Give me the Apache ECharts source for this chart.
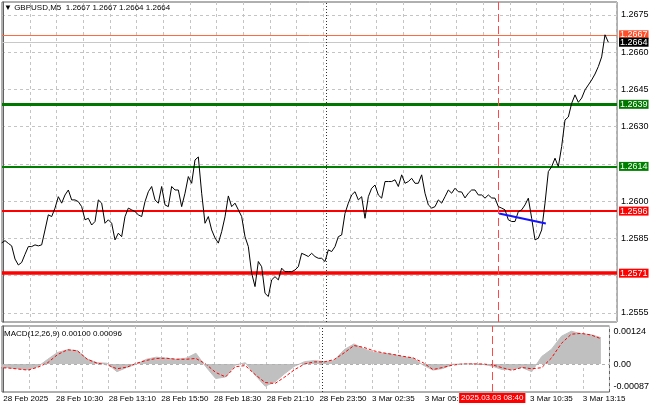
<!DOCTYPE html>
<html><head><meta charset="utf-8">
<script src="https://cdn.jsdelivr.net/npm/echarts@6/dist/echarts.min.js"></script>
<style>html,body{margin:0;padding:0;background:#fff}#c{width:652px;height:408px}</style>
</head><body><div id="c"></div>
<script>
// ---------- data ----------
const symbolName = 'GBPUSD,M5';
const ohlc = [1.2667, 1.2667, 1.2664, 1.2664];
const macdParams = '12,26,9';
const macdLast = [0.00100, 0.00096];

// close prices sampled every 2 bars (bar index = -1 + 2k)
const closes = [
 1.25832,1.25841,1.25830,1.25820,1.25767,1.25743,1.25753,1.25786,1.25817,1.25817,
 1.25824,1.25820,1.25824,1.25884,1.25945,1.25938,1.25972,1.26018,1.25992,1.26025,
 1.26045,1.26005,1.26005,1.25998,1.25978,1.25925,1.25931,1.25904,1.25918,1.26005,
 1.25992,1.25911,1.25925,1.25911,1.25844,1.25871,1.25857,1.25938,1.25972,1.25965,
 1.25958,1.25945,1.25938,1.25998,1.26038,1.26059,1.26005,1.25992,1.26059,1.25985,
 1.25978,1.26059,1.26045,1.26045,1.25978,1.26032,1.26099,1.26072,1.26166,1.26178,
 1.26032,1.25911,1.25938,1.25884,1.25852,1.25831,1.25877,1.25937,1.26021,1.25978,
 1.25992,1.25965,1.25938,1.25857,1.25817,1.25710,1.25656,1.25757,1.25736,1.25629,
 1.25616,1.25683,1.25696,1.25683,1.25730,1.25716,1.25716,1.25716,1.25723,1.25736,
 1.25790,1.25784,1.25777,1.25790,1.25777,1.25770,1.25770,1.25757,1.25804,1.25797,
 1.25817,1.25857,1.25864,1.25951,1.25992,1.26025,1.26038,1.26005,1.26018,1.25931,
 1.26018,1.26052,1.26065,1.26025,1.26012,1.26079,1.26079,1.26079,1.26086,1.26059,
 1.26106,1.26072,1.26079,1.26092,1.26072,1.26072,1.26106,1.26032,1.25985,1.25972,
 1.25978,1.26005,1.25992,1.26018,1.26045,1.26032,1.26052,1.26038,1.26037,1.26013,
 1.26032,1.26045,1.26045,1.26025,1.26025,1.26012,1.26025,1.26013,1.26012,1.25978,
 1.25972,1.25965,1.25925,1.25918,1.25918,1.25958,1.25965,1.25985,1.26012,1.25931,
 1.25844,1.25851,1.25884,1.25992,1.26119,1.26139,1.26173,1.26139,1.26220,1.26327,
 1.26339,1.26394,1.26428,1.26398,1.26415,1.26448,1.26468,1.26488,1.26512,1.26542,
 1.26581,1.26670,1.26640
];
const closeBars = closes.map((_, k) => -1 + 2 * k);

// MACD sampled every 6 bars (bar index = -3 + 6j)
const macdMain = [
 -0.00010,-0.00014,-0.00018,-0.00021,-0.00010,0.00018,0.00044,0.00054,0.00051,0.00019,
 0.00005,0.00003,-0.00029,-0.00013,0.00000,0.00018,0.00026,0.00022,0.00018,0.00022,
 0.00041,-0.00010,-0.00055,-0.00049,-0.00004,0.00005,-0.00042,-0.00084,-0.00068,-0.00036,
 -0.00008,0.00009,0.00013,0.00009,0.00013,0.00054,0.00076,0.00058,0.00044,0.00041,
 0.00036,0.00028,0.00022,-0.00004,-0.00023,-0.00017,-0.00001,0.00000,0.00001,-0.00001,
 -0.00008,-0.00021,-0.00021,-0.00013,-0.00029,0.00028,0.00056,0.00105,0.00124,0.00115,
 0.00111,0.00100
];
const macdSignal = [
 -0.00014,-0.00015,-0.00019,-0.00023,-0.00012,0.00005,0.00036,0.00054,0.00050,0.00018,
 0.00003,-0.00003,-0.00018,-0.00012,0.00003,0.00014,0.00021,0.00022,0.00018,0.00018,
 0.00021,0.00000,-0.00032,-0.00049,-0.00010,-0.00006,-0.00040,-0.00070,-0.00074,-0.00049,
 -0.00021,0.00000,0.00008,0.00008,0.00017,0.00042,0.00070,0.00063,0.00050,0.00042,
 0.00036,0.00029,0.00023,0.00005,-0.00021,-0.00013,-0.00004,0.00000,0.00000,0.00000,
 -0.00003,-0.00014,-0.00024,-0.00013,-0.00018,-0.00014,0.00023,0.00078,0.00113,0.00116,
 0.00110,0.00096
];
const macdBars = macdMain.map((_, j) => -3 + 6 * j);

const timeLabelBars = [0,32,64,96,128,160,192,224,256,288,320,352];
const timeLabels = ['28 Feb 2025','28 Feb 10:30','28 Feb 13:10','28 Feb 15:50','28 Feb 18:30','28 Feb 21:10',
                    '28 Feb 23:50','3 Mar 02:35','3 Mar 05:15','3 Mar 07:55','3 Mar 10:35','3 Mar 13:15'];
const gridBars = [0,16,32,48,64,80,96,112,128,144,160,176,192,208,224,240,256,272,288,304,320,336,352,368];
const priceGrid = [1.2555,1.2570,1.2585,1.2600,1.2615,1.2630,1.2645,1.2660,1.2675];
const priceTickLabels = [1.2555,1.2585,1.2600,1.2630,1.2645,1.2660,1.2675];
const macdTicks = [0.00124, 0, -0.00087];
const levelPrices = [1.2639, 1.2614, 1.2596, 1.2571];
const askPrice = 1.2667, bidPrice = 1.2664;
const markerBar = 297, markerLabel = '2025.03.03 08:40';
const separatorBar = 193.5;
const trendBars = [297.5, 325.5];
const trendPrices = [1.2595, 1.2591];

// ---------- styles ----------
const FONT = 'Liberation Sans';
const levelStyle = [
  {color:'#007800', width:3},
  {color:'#008000', width:2},
  {color:'#ff0000', width:2},
  {color:'#ff0000', width:3.5}
];
const gridLine = {color:'#c4c4c4', type:[3,3], width:1};
const labelMap = {};
timeLabelBars.forEach((b, i) => labelMap[b] = timeLabels[i]);

function boxLabel(text, bg) {
  return {show:true, position:'end', distance:2, formatter:text, backgroundColor:bg, color:'#fff',
          fontSize:9, fontFamily:FONT, lineHeight:9, padding:[0,1,0,1]};
}

const priceMarks = levelPrices.map((p, i) => ({
  yAxis: p, lineStyle:{color:levelStyle[i].color, width:levelStyle[i].width, type:'solid'},
  label: boxLabel(p.toFixed(4), levelStyle[i].color)
}));
priceMarks.push({yAxis: askPrice, lineStyle:{color:'#ff6a40', width:1, type:'solid'}, label: boxLabel(askPrice.toFixed(4), '#ff4f2a')});
priceMarks.push({yAxis: bidPrice, lineStyle:{color:'#c8c8c8', width:1, type:'solid'}, label: boxLabel(bidPrice.toFixed(4), '#000')});
priceMarks.push({xAxis: markerBar, lineStyle:{color:'#ff4848', width:1, type:[8,4]}, label:{show:false}});
priceMarks.push({xAxis: separatorBar, lineStyle:{color:'#303030', width:1, type:[1,2]}, label:{show:false}});

const chart = echarts.init(document.getElementById('c'), null, {renderer:'canvas'});
chart.setOption({
  animation:false,
  backgroundColor:'#fff',
  textStyle:{fontFamily:FONT},
  title:[
    {text:'\u25BC ' + symbolName + '  ' + ohlc.map(v => v.toFixed(4)).join(' '), left:4, top:4, padding:0,
     textStyle:{fontSize:8, fontWeight:'normal', color:'#000', fontFamily:FONT}},
    {text:'MACD(' + macdParams + ') ' + macdLast.map(v => v.toFixed(5)).join(' '), left:4, top:330, padding:0,
     textStyle:{fontSize:8, fontWeight:'normal', color:'#000', fontFamily:FONT}}
  ],
  grid:[
    {left:2, right:35, top:2, height:320, show:true, borderColor:'#606060', borderWidth:1},
    {left:2, right:35, top:326, height:66, show:true, borderColor:'#606060', borderWidth:1}
  ],
  xAxis:[
    {gridIndex:0, type:'value', min:-0.8, max:368.2,
     axisLine:{show:false}, axisTick:{show:false, customValues:gridBars}, axisLabel:{show:false},
     splitLine:{show:true, lineStyle:gridLine}},
    {gridIndex:1, type:'value', min:-0.8, max:368.2,
     axisLine:{show:false}, axisTick:{show:false, customValues:gridBars},
     axisLabel:{customValues:timeLabelBars, formatter:v => labelMap[Math.round(v)] || '',
                align:'left', fontSize:8, color:'#000', fontFamily:FONT, margin:3},
     splitLine:{show:true, lineStyle:gridLine}}
  ],
  yAxis:[
    {gridIndex:0, type:'value', position:'right', min:1.255134, max:1.26802,
     axisLine:{show:true, lineStyle:{color:'#606060'}},
     axisTick:{show:false, customValues:priceGrid},
     axisLabel:{customValues:priceTickLabels, formatter:v => v.toFixed(4), fontSize:9, color:'#000', fontFamily:FONT, margin:4},
     splitLine:{show:true, lineStyle:gridLine}},
    {gridIndex:1, type:'value', position:'right', min:-0.00106, max:0.00144,
     axisLine:{show:true, lineStyle:{color:'#606060'}},
     axisTick:{show:false, customValues:macdTicks},
     axisLabel:{customValues:macdTicks, formatter:v => v === 0 ? '0.00' : v.toFixed(5), fontSize:9, color:'#000', fontFamily:FONT, margin:4},
     splitLine:{show:false}}
  ],
  series:[
    {type:'line', xAxisIndex:0, yAxisIndex:0, data:closeBars.map((b, k) => [b, closes[k]]),
     showSymbol:false, symbol:'none', lineStyle:{color:'#000', width:1}, z:5,
     markLine:{silent:true, precision:6, symbol:['none','none'], animation:false, data:priceMarks}},
    {type:'line', xAxisIndex:0, yAxisIndex:0, data:trendBars.map((b, i) => [b, trendPrices[i]]),
     showSymbol:false, symbol:'none', lineStyle:{color:'#1414ff', width:2}, z:6},
    {type:'line', xAxisIndex:1, yAxisIndex:1, data:macdBars.map((b, j) => [b, macdMain[j]]),
     showSymbol:false, symbol:'none', lineStyle:{color:'#c0c0c0', width:1},
     areaStyle:{color:'#c0c0c0', opacity:1, origin:0}, z:3,
     markLine:{silent:true, precision:6, symbol:['none','none'], animation:false, data:[
       {yAxis:0, lineStyle:{color:'#b0b0b0', width:1, type:[3,3]}, label:{show:false}},
       {xAxis:separatorBar, lineStyle:{color:'#303030', width:1, type:[1,2]}, label:{show:false}},
       {xAxis:markerBar, lineStyle:{color:'#ff4848', width:1, type:[8,4]},
        label:{show:true, position:'start', distance:1, formatter:markerLabel, backgroundColor:'#ff0000',
               color:'#fff', fontSize:8, fontFamily:FONT, padding:[1,2,1,2]}}
     ]}},
    {type:'line', xAxisIndex:1, yAxisIndex:1, data:macdBars.map((b, j) => [b, macdSignal[j]]),
     showSymbol:false, symbol:'none', lineStyle:{color:'#ff0000', width:1, type:[3,2]}, z:4}
  ]
});
</script></body></html>
